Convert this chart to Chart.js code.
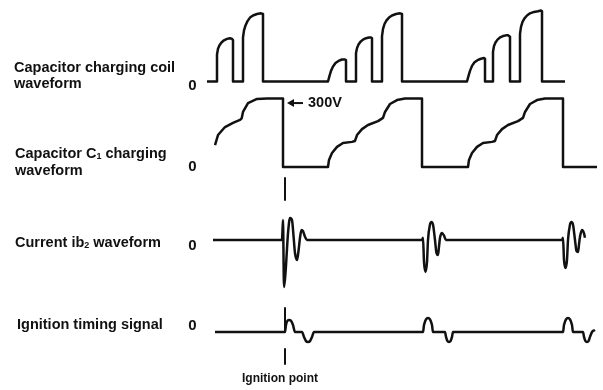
<!DOCTYPE html>
<html>
<head>
<meta charset="utf-8">
<script src="https://cdn.jsdelivr.net/npm/chart.js@4.4.1/dist/chart.umd.min.js"></script>
<style>
  html, body { margin: 0; padding: 0; background: #fff; }
  #wrap { width: 603px; height: 390px; }
</style>
</head>
<body>
<div id="wrap"><canvas id="chart" width="603" height="390"></canvas></div>
<script>
// time axis is arbitrary units
// capacitor charging coil, % of the highest pulse
const coilTime = [7,
  17,17,18,19.5,21.5,24,27,30,32,33,33,
  43,43,44,45.5,47.5,50,53,57,61,63,63,
  128,129.5,131,133,135.5,138.5,142,145,146,146,
  156,156,157,158.5,160.5,163,166,169,171,172,172,
  182,182,183,184.5,186.5,189,192,196,200,202,202,
  267,268.5,270,272,274.5,277.5,281,284,285,285,
  293,293,294,295.5,297.5,300,303,306,308,310,310,
  320,320,321,322.5,324.5,327,330,334,338,341,342,342,
  365];
const coilLevel = [0,
  0,38,46,51,55,58,60,61,60,58,0,
  0,62,72,79,85,90,93,95,96,95,0,
  0,8,15,21,26,29,31,31,30,0,
  0,40,47,52,56,59,61,62,62,61,0,
  0,64,74,81,86,90,93,95,96,95,0,
  0,8,15,22,27,30,32,33,32,0,
  0,42,50,55,59,62,64,65,65,63,0,
  0,67,77,84,89,93,96,98,99,100,99,0,
  0];

// capacitor C1 voltage, volts
const c1Time = [15,18,25,33,40,41.7,43,48,57,67,83,83,
  128,129,132,137,143,152,155,157,162,168,178,183,185,190,197,205,222,222,
  268,269,272,277,283,292,295,297,302,308,318,323,325,330,337,345,363,363, 397];
const c1Volts = [96,140,175,193,206,213,241,280,298,300,300,0,
  0,31,61,88,105,110,114,140,166,184,201,215,241,276,293,300,300,0,
  0,31,61,88,105,110,114,140,166,184,201,215,241,276,293,300,300,0, 0];

// current ib2, relative %
const ib2Time = [13, 82,83,84,85.5,87,88,90,92,93.5,95,97,98.5,100,101.5,103,105,107,
  222,223,224,225.5,227,228,230,231.5,233,235,236.5,238,239,240,242,244,246,
  362,363,364,365.5,367,368,370,371.5,373,375,376.5,378,379,380,382,384,385];
const ib2Level = [0, 0,91,-214,-150,-40,30,100,90,20,-60,-91,-50,10,45,40,15,0,
  0,10,-100,-145,-100,0,70,82,70,0,-60,-68,-30,10,32,20,0,
  0,10,-90,-127,-90,0,70,82,70,0,-50,-55,-20,15,45,30,10];

// ignition timing signal, relative %
const ignTime = [15, 85,86,87,89,91,93,95, 102,104,106,108,110,112,114,
  223,224,226,228,230,232,233, 245,246,247.5,249,250.5,252,253,
  363,364,366,368,370,372,373, 383,384,385.5,387,388.5,390,392,395];
const ignLevel = [0, 0,50,75,86,80,50,0, 0,-35,-65,-71,-65,-35,0,
  0,50,90,100,90,50,0, 0,-35,-65,-71,-65,-35,0,
  0,50,90,100,90,50,0, 0,-35,-65,-71,-65,-35,0,15];

const ignitionTimes = [85, 223, 363];
const markVolts = 280;

// layout: where each trace sits and how tall it is (y axis units)
const traces = {
  coil: { offset: 308.5, gain: 0.71 },
  c1:   { offset: 223,   gain: 68.5 / 300 },
  ib2:  { offset: 150,   gain: 0.22 },
  ign:  { offset: 58,    gain: 0.14 }
};
const markerSpans = [[212, 190], [82, 58], [41, 26]];

function build(times, values, tr) {
  return times.map((t, i) => ({ x: t, y: tr.offset + values[i] * tr.gain }));
}

const markerData = [];
markerSpans.forEach((s, i) => {
  if (i > 0) markerData.push({ x: ignitionTimes[0], y: null });
  markerData.push({ x: ignitionTimes[0], y: s[0] });
  markerData.push({ x: ignitionTimes[0], y: s[1] });
});

const ink = '#111';
const FONT = '"Liberation Sans", Arial, sans-serif';
const lineStyle = {
  showLine: true, borderColor: ink, borderWidth: 2.5, pointRadius: 0,
  fill: false, borderJoinStyle: 'round'
};

const textPlugin = {
  id: 'texts',
  afterDraw(chart) {
    const ctx = chart.ctx;
    const x = chart.scales.x, y = chart.scales.y;
    ctx.save();
    ctx.fillStyle = ink;
    ctx.textBaseline = 'alphabetic';
    ctx.textAlign = 'left';

    function runs(px, py, parts) {
      let cx = px;
      parts.forEach(p => {
        ctx.font = p.sub ? 'bold 9px ' + FONT : 'bold 14.5px ' + FONT;
        ctx.fillText(p.t, cx, py + (p.sub ? 1 : 0));
        cx += ctx.measureText(p.t).width;
      });
    }
    runs(14, 72, [{ t: 'Capacitor charging coil' }]);
    runs(14, 88, [{ t: 'waveform' }]);
    runs(15, 158, [{ t: 'Capacitor C' }, { t: '1', sub: true }, { t: ' charging' }]);
    runs(15, 175, [{ t: 'waveform' }]);
    runs(15, 247, [{ t: 'Current ib' }, { t: '2', sub: true }, { t: ' waveform' }]);
    runs(17, 329, [{ t: 'Ignition timing signal' }]);

    ctx.font = 'bold 15px ' + FONT;
    ctx.textAlign = 'center';
    ctx.textBaseline = 'middle';
    [86, 167, 246, 326].forEach(py => ctx.fillText('0', 192.5, py));

    ctx.textAlign = 'left';
    ctx.font = 'bold 12px ' + FONT;
    ctx.textBaseline = 'alphabetic';
    ctx.fillText('Ignition point', 242, 382);

    // 300V arrow
    const ay = y.getPixelForValue(traces.c1.offset + markVolts * traces.c1.gain);
    const tip = x.getPixelForValue(ignitionTimes[0] + 2);
    const tail = x.getPixelForValue(ignitionTimes[0] + 18);
    ctx.strokeStyle = ink;
    ctx.lineWidth = 2;
    ctx.beginPath();
    ctx.moveTo(tail, ay);
    ctx.lineTo(tip + 5, ay);
    ctx.stroke();
    ctx.beginPath();
    ctx.moveTo(tip, ay);
    ctx.lineTo(tip + 7, ay - 4);
    ctx.lineTo(tip + 7, ay + 4);
    ctx.closePath();
    ctx.fill();
    ctx.font = 'bold 14.5px ' + FONT;
    ctx.textBaseline = 'middle';
    ctx.fillText('300V', tail + 5, ay);
    ctx.restore();
  }
};

new Chart(document.getElementById('chart'), {
  type: 'scatter',
  data: {
    datasets: [
      Object.assign({ data: build(coilTime, coilLevel, traces.coil), tension: 0 }, lineStyle),
      Object.assign({ data: build(c1Time, c1Volts, traces.c1), tension: 0 }, lineStyle),
      Object.assign({ data: build(ib2Time, ib2Level, traces.ib2), cubicInterpolationMode: 'monotone' }, lineStyle),
      Object.assign({ data: build(ignTime, ignLevel, traces.ign), cubicInterpolationMode: 'monotone' }, lineStyle),
      Object.assign({ data: markerData, tension: 0, spanGaps: false }, lineStyle, { borderWidth: 2 })
    ]
  },
  options: {
    responsive: false,
    animation: false,
    devicePixelRatio: 1,
    layout: { padding: { left: 200, right: 3, top: 0, bottom: 0 } },
    scales: {
      x: { type: 'linear', min: 0, max: 400, display: false },
      y: { type: 'linear', min: 0, max: 390, display: false }
    },
    plugins: { legend: { display: false }, tooltip: { enabled: false } }
  },
  plugins: [textPlugin]
});
</script>
</body>
</html>
